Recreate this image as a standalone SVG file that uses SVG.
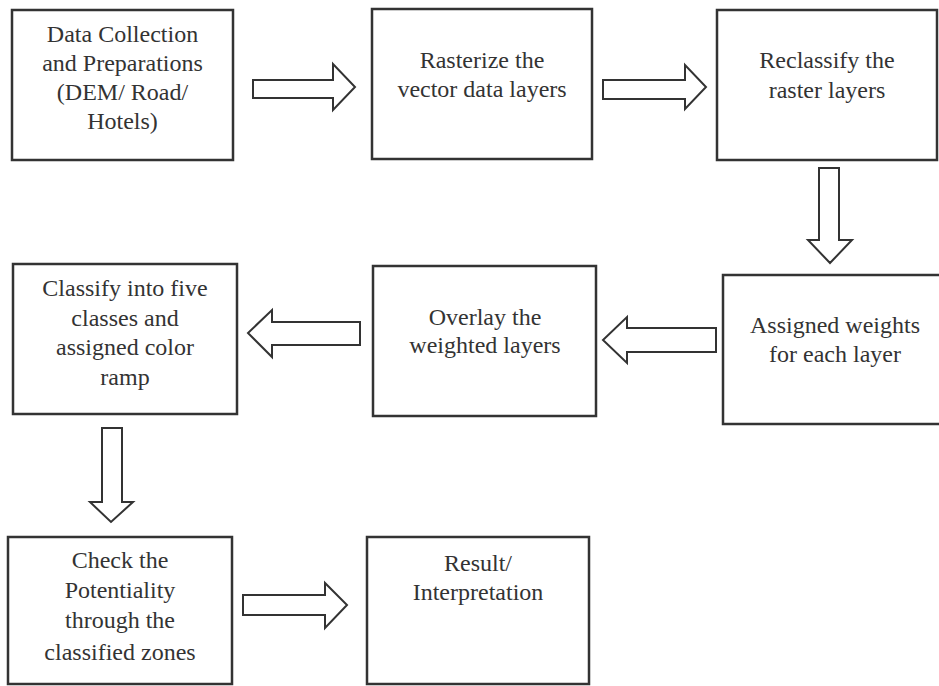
<svg xmlns="http://www.w3.org/2000/svg" width="939" height="686" viewBox="0 0 939 686">
<style>
.box{fill:#fff;stroke:#333;stroke-width:2.5}
.arr{fill:#fff;stroke:#333;stroke-width:2;stroke-linejoin:miter}
.t{font-size:24px;fill:#333;text-anchor:middle}
</style>
<rect width="939" height="686" fill="#fff"/>
<g font-family="'Liberation Serif', 'Times New Roman', 'DejaVu Serif', serif">
<g id="n1"><rect class="box" x="12" y="10" width="221" height="150"/>
<text class="t" x="122.5" y="42">Data Collection</text>
<text class="t" x="122.5" y="71">and Preparations</text>
<text class="t" x="122.5" y="100">(DEM/ Road/</text>
<text class="t" x="122.5" y="129">Hotels)</text></g>
<g id="n2"><rect class="box" x="372" y="9" width="220" height="150"/>
<text class="t" x="482" y="68">Rasterize the</text>
<text class="t" x="482" y="97">vector data layers</text></g>
<g id="n3"><rect class="box" x="717" y="10" width="220" height="150"/>
<text class="t" x="827" y="68">Reclassify the</text>
<text class="t" x="827" y="98">raster layers</text></g>
<g id="n4"><rect class="box" x="723" y="275" width="226" height="149"/>
<text class="t" x="835" y="333">Assigned weights</text>
<text class="t" x="835" y="362">for each layer</text></g>
<g id="n5"><rect class="box" x="373" y="266" width="223" height="150"/>
<text class="t" x="485" y="325">Overlay the</text>
<text class="t" x="485" y="353">weighted layers</text></g>
<g id="n6"><rect class="box" x="13" y="264" width="224" height="150"/>
<text class="t" x="125" y="296">Classify into five</text>
<text class="t" x="125" y="326">classes and</text>
<text class="t" x="125" y="355">assigned color</text>
<text class="t" x="125" y="385">ramp</text></g>
<g id="n7"><rect class="box" x="8" y="537" width="224" height="147"/>
<text class="t" x="120" y="568">Check the</text>
<text class="t" x="120" y="598">Potentiality</text>
<text class="t" x="120" y="628">through the</text>
<text class="t" x="120" y="660">classified zones</text></g>
<g id="n8"><rect class="box" x="367" y="537" width="222" height="147"/>
<text class="t" x="478" y="571">Result/</text>
<text class="t" x="478" y="600">Interpretation</text></g>
</g>
<g id="connectors">
<polygon class="arr" points="253,80 333,80 333,64 355,87 333,110 333,98 253,98"/>
<polygon class="arr" points="603,80 685,80 685,65 706,87 685,109 685,99 603,99"/>
<polygon class="arr" points="819,168 839,168 839,240 852,240 830,263 808,240 819,240"/>
<polygon class="arr" points="716,328 627,328 627,317 603,340 627,363 627,352 716,352"/>
<polygon class="arr" points="360,322 272,322 272,310 248,333 272,357 272,345 360,345"/>
<polygon class="arr" points="102,428 122,428 122,502 133,502 111,522 90,502 102,502"/>
<polygon class="arr" points="243,595 325,595 325,583 347,605 325,628 325,615 243,615"/>
</g>
</svg>
